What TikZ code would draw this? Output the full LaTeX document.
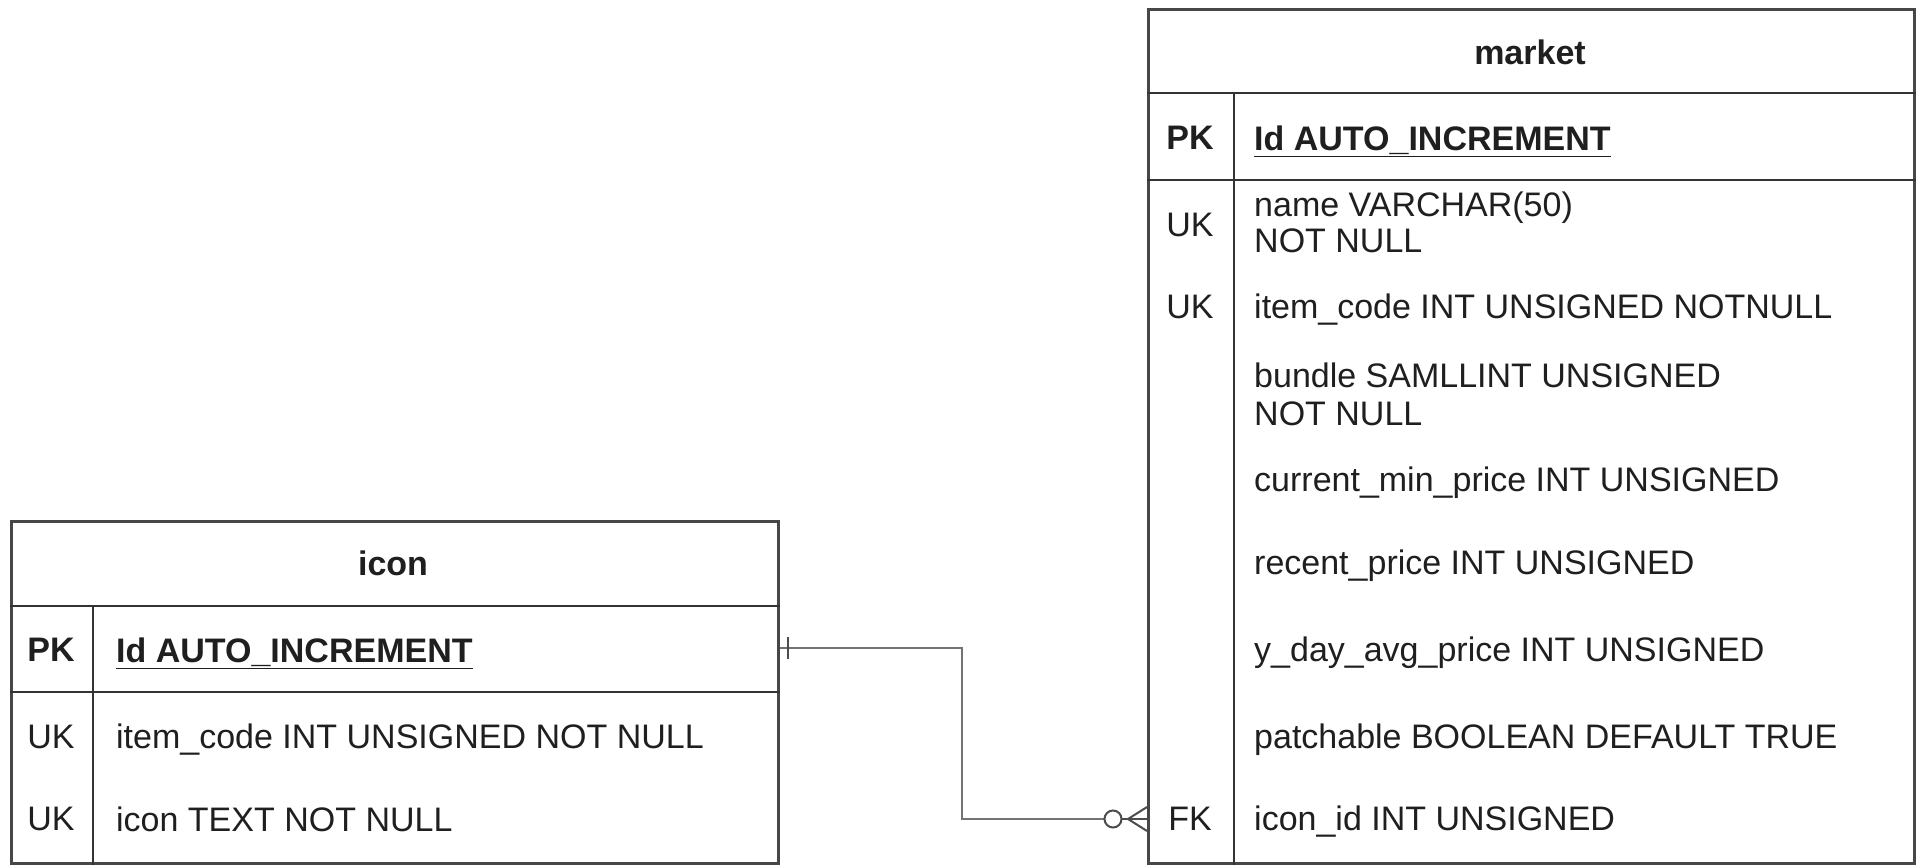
\documentclass[tikz,border=0pt]{standalone}
\usepackage{fontspec}
\setmainfont{Liberation Sans}
\begin{document}
\begin{tikzpicture}[x=1pt,y=-1pt,
  border/.style={draw=black!72,line width=2.6pt},
  sep/.style={draw=black!80,line width=2.6pt},
  title/.style={font=\fontsize{34}{40}\selectfont\bfseries,text=black!88},
  keytxt/.style={font=\fontsize{34}{40}\selectfont,text=black!88},
  pktxt/.style={font=\fontsize{34}{40}\selectfont\bfseries,text=black!88},
  fieldtxt/.style={font=\fontsize{34}{40}\selectfont,text=black!88,anchor=west,inner sep=0pt,align=left,yshift=-3pt},
  conn/.style={draw=black!55,line width=2.6pt},
  ermark/.style={draw=black!70,line width=2.2pt}]
\useasboundingbox (0,0) rectangle (1920,866);
\fill[white] (0,0) rectangle (1920,866);

% ---------- market table ----------
\node[border,inner sep=0pt,minimum width=766pt,minimum height=854pt,anchor=north west] (market) at (1147,8) {};
\coordinate (mh) at (1147,93);
\coordinate (mp) at (1147,180);
\draw[sep] (mh) -- (mh -| market.east);
\draw[sep] (mp) -- (mp -| market.east);
\coordinate (md) at (1234,93);
\draw[sep] (md) -- (md |- market.south);

\node[title] (mtitle) at (1530,52) {market};
\node[pktxt] (mpk) at (1190,138) {PK};
\node[fieldtxt,font=\fontsize{34}{40}\selectfont\bfseries] (mid) at (1254,138) {\underline{Id AUTO\_INCREMENT}};
\node[keytxt] (muk1) at (1190,225) {UK};
\node[fieldtxt] (mname) at (1254,205) {name VARCHAR(50)};
\node[fieldtxt] (mname2) at (1254,238) {NOT NULL};
\node[keytxt] (muk2) at (1190,307) {UK};
\node[fieldtxt] (mitem) at (1254,307) {item\_code INT UNSIGNED NOTNULL};
\node[fieldtxt] (mbundle) at (1254,372) {bundle SAMLLINT UNSIGNED};
\node[fieldtxt] (mbundle2) at (1254,411) {NOT NULL};
\node[fieldtxt] (mcur) at (1254,480) {current\_min\_price INT UNSIGNED};
\node[fieldtxt] (mrec) at (1254,563) {recent\_price INT UNSIGNED};
\node[fieldtxt] (myday) at (1254,650) {y\_day\_avg\_price INT UNSIGNED};
\node[fieldtxt] (mpatch) at (1254,737) {patchable BOOLEAN DEFAULT TRUE};
\node[keytxt] (mfk) at (1190,819) {FK};
\node[fieldtxt] (micon) at (1254,819) {icon\_id INT UNSIGNED};

% ---------- icon table ----------
\node[border,inner sep=0pt,minimum width=767pt,minimum height=342pt,anchor=north west] (icon) at (10,520) {};
\coordinate (ih) at (10,606);
\coordinate (ip) at (10,692);
\draw[sep] (ih) -- (ih -| icon.east);
\draw[sep] (ip) -- (ip -| icon.east);
\coordinate (id) at (93,606);
\draw[sep] (id) -- (id |- icon.south);

\node[title] (ititle) at (393,563) {icon};
\node[pktxt] (ipk) at (51,650) {PK};
\node[fieldtxt,font=\fontsize{34}{40}\selectfont\bfseries] (iid) at (116,650) {\underline{Id AUTO\_INCREMENT}};
\node[keytxt] (iuk1) at (51,737) {UK};
\node[fieldtxt] (iitem) at (116,737) {item\_code INT UNSIGNED NOT NULL};
\node[keytxt] (iuk2) at (51,819) {UK};
\node[fieldtxt] (iicon) at (116,816) {icon TEXT NOT NULL};

% ---------- relationship ----------
\coordinate (cs) at (icon.east |- 0,648);
\coordinate (ce) at (market.west |- 0,819);
\coordinate (cbend1) at (962,648);
\coordinate (cbend2) at (962,819);
\coordinate (ccirc) at (1113,819);
\draw[conn] (cs) -- (cbend1) -- (cbend2) -- ([xshift=-9pt]ccirc);
% one mark
\coordinate (onebar) at (788,648);
\draw[ermark] ([yshift=-11pt]onebar) -- ([yshift=11pt]onebar);
% zero-or-many mark
\draw[ermark,line width=2pt] (ccirc) circle[radius=8.5pt];
\coordinate (crow) at (1128,819);
\draw[ermark,line width=2pt] ([xshift=8.5pt]ccirc) -- (ce);
\draw[ermark,line width=2pt] (ce |- 0,807) -- (crow) -- (ce |- 0,831);
\end{tikzpicture}
\end{document}
